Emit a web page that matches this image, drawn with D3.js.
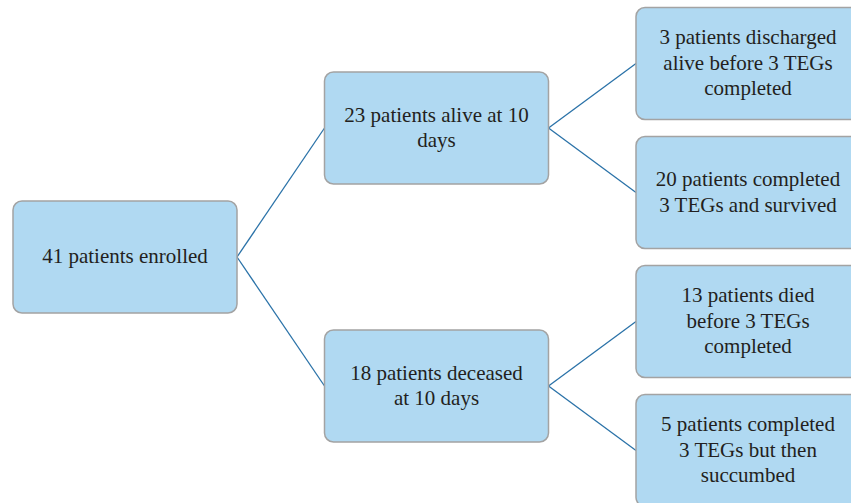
<!DOCTYPE html>
<html>
<head>
<meta charset="utf-8">
<script src="https://cdn.jsdelivr.net/npm/d3@7"></script>
<style>
  body { margin: 0; background: #fff; }
  #vis { position: relative; width: 851px; height: 503px; overflow: hidden; }
  svg { display: block; position: absolute; left: 0; top: 0; }
  .label {
    position: absolute;
    font-family: 'Liberation Serif', 'Times New Roman', serif;
    font-size: 21px;
    line-height: 25.5px;
    color: #231f20;
    text-align: center;
    display: flex;
    flex-direction: column;
    justify-content: center;
  }
</style>
</head>
<body>
<div id="vis"></div>
<script>
'use strict'

// node labels, one entry per text line
const rootLabel = ["41 patients enrolled"]
const branchLabels = [
  ["23 patients alive at 10", "days"],
  ["18 patients deceased", "at 10 days"]
]
const leafLabels = [
  [["3 patients discharged", "alive before 3 TEGs", "completed"],
   ["20 patients completed", "3 TEGs and survived"]],
  [["13 patients died", "before 3 TEGs", "completed"],
   ["5 patients completed", "3 TEGs but then", "succumbed"]]
]

function wrapper(){
  let width = 851
  let height = 503

  let box_w = 224
  let box_h = 112

  let tree_data = {
    lines: rootLabel,
    children: branchLabels.map(function(b, i){
      return {
        lines: b,
        children: leafLabels[i].map(function(l){ return {lines: l} })
      }
    })
  }

  let root = d3.hierarchy(tree_data)
  d3.tree()
    .nodeSize([129, 311.5])
    .separation(function(){ return 1 })(root)

  // root box left edge at 13, vertical center at 257
  let off_x = 13
  let off_y = 257

  let vis = d3.select("#vis")

  let svg = vis.append("svg")
    .attr("width", width)
    .attr("height", height)

  let link = svg.append("g").selectAll("line")
    .data(root.links())
    .join("line")
    .attr("x1", d => off_x + d.source.y + box_w)
    .attr("y1", d => off_y + d.source.x)
    .attr("x2", d => off_x + d.target.y)
    .attr("y2", d => off_y + d.target.x)
    .attr("stroke", "#2a72a8")
    .attr("stroke-width", 1.3)

  let node = svg.append("g").selectAll("g")
    .data(root.descendants())
    .join("g")
    .attr("transform", function(d){
      return "translate(" + (off_x + d.y) + "," + (off_y + d.x - box_h / 2) + ")"
    })

  node.append("rect")
    .attr("width", box_w)
    .attr("height", box_h)
    .attr("rx", 9)
    .attr("fill", "#b0d9f2")
    .attr("stroke", "#a3a3a3")
    .attr("stroke-width", 1.5)

  // labels as html so the serif face is used
  let label = vis.selectAll("div.label")
    .data(root.descendants())
    .join("div")
    .attr("class", "label")
    .style("left", d => (off_x + d.y) + "px")
    .style("top", d => (off_y + d.x - box_h / 2) + "px")
    .style("width", box_w + "px")
    .style("height", box_h + "px")

  label.selectAll("span")
    .data(d => d.data.lines)
    .join("span")
    .text(l => l)
}

wrapper()
</script>
</body>
</html>
